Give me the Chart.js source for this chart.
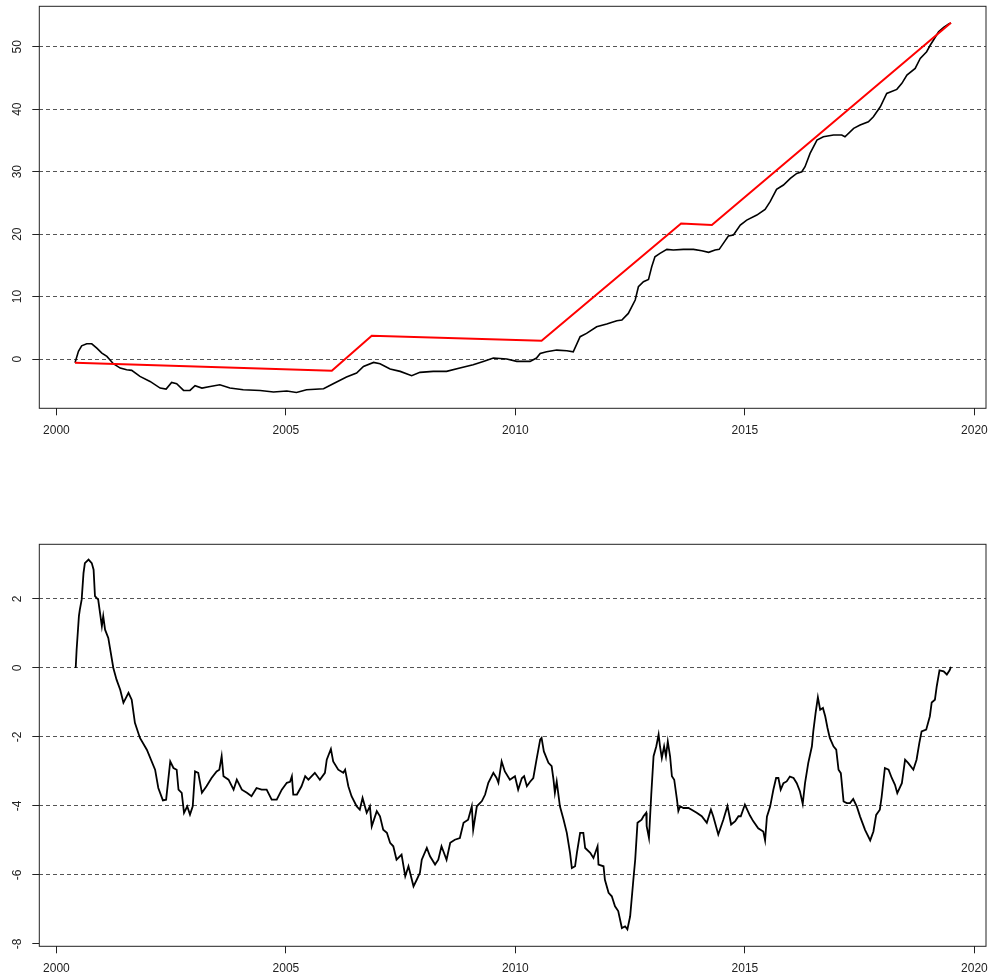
<!DOCTYPE html>
<html>
<head>
<meta charset="utf-8">
<script src="https://cdn.jsdelivr.net/npm/chart.js@4"></script>
<style>
  body { margin: 0; background: #fff; }
  .panel { position: absolute; left: 0; width: 989px; height: 489px; }
  #topPanel { top: 0; }
  #bottomPanel { top: 489px; }
</style>
</head>
<body>
<div class="panel" id="topPanel"><canvas id="topChart"></canvas></div>
<div class="panel" id="bottomPanel"><canvas id="bottomChart"></canvas></div>
<script>
// x ticks shared by both panels
const xTicks = [2000, 2005, 2010, 2015, 2020];
const topYTicks = [0, 10, 20, 30, 40, 50];
const bottomYTicks = [-8, -6, -4, -2, 0, 2];
const bottomGridValues = [-6, -4, -2, 0, 2];

// red piecewise line (top panel)
const targetYears = [2000.405, 2006.0, 2006.87, 2010.57, 2013.61, 2014.28, 2019.49];
const targetValues = [-0.59, -1.87, 3.73, 2.93, 21.7, 21.47, 53.85];

// black line (top panel)
const cumYears = [
  2000.405, 2000.48, 2000.55, 2000.66, 2000.77, 2000.88, 2000.99, 2001.10, 2001.24, 2001.39,
  2001.53, 2001.64, 2001.82, 2002.04, 2002.26, 2002.39, 2002.51, 2002.62, 2002.77, 2002.91,
  2003.02, 2003.17, 2003.35, 2003.56, 2003.78, 2004.07, 2004.44, 2004.73, 2005.02, 2005.23,
  2005.45, 2005.82, 2006.03, 2006.32, 2006.54, 2006.69, 2006.91, 2007.05, 2007.27, 2007.49,
  2007.74, 2007.92, 2008.21, 2008.50, 2008.79, 2009.08, 2009.30, 2009.52, 2009.81, 2010.03,
  2010.32, 2010.46, 2010.54, 2010.68, 2010.90, 2011.12, 2011.26, 2011.41, 2011.55, 2011.77,
  2011.99, 2012.21, 2012.32, 2012.46, 2012.61, 2012.68, 2012.79, 2012.90, 2012.97, 2013.04,
  2013.15, 2013.30, 2013.44, 2013.66, 2013.88, 2014.06, 2014.21, 2014.35, 2014.44, 2014.53,
  2014.64, 2014.75, 2014.90, 2015.04, 2015.26, 2015.44, 2015.55, 2015.69, 2015.84, 2015.99,
  2016.13, 2016.24, 2016.31, 2016.42, 2016.57, 2016.71, 2016.93, 2017.11, 2017.18, 2017.37,
  2017.51, 2017.69, 2017.80, 2017.95, 2018.09, 2018.31, 2018.42, 2018.53, 2018.71, 2018.82,
  2018.96, 2019.04, 2019.11, 2019.22, 2019.33, 2019.44, 2019.49
];
const cumValues = [
  -0.59, 1.23, 2.13, 2.45, 2.45, 1.76, 0.96, 0.43, -0.75, -1.44,
  -1.71, -1.81, -2.77, -3.58, -4.64, -4.8, -3.74, -3.95, -5.02, -5.02,
  -4.27, -4.64, -4.38, -4.11, -4.64, -4.91, -5.02, -5.28, -5.12, -5.34,
  -4.91, -4.75, -3.95, -2.88, -2.24, -1.17, -0.53, -0.75, -1.6, -1.97,
  -2.67, -2.13, -1.97, -1.97, -1.44, -0.91, -0.37, 0.16, 0, -0.37,
  -0.37, 0.16, 0.91, 1.17, 1.44, 1.33, 1.17, 3.58, 4.11, 5.18,
  5.6, 6.14, 6.24, 7.31, 9.45, 11.58, 12.38, 12.75, 14.78, 16.38,
  16.92, 17.56, 17.45, 17.56, 17.56, 17.34, 17.08, 17.45, 17.56, 18.52,
  19.69, 19.85, 21.45, 22.25, 23.05, 23.96, 25.19, 27.16, 27.86, 28.92,
  29.72, 29.99, 30.79, 32.92, 35.06, 35.59, 35.86, 35.86, 35.59, 36.93,
  37.46, 37.99, 38.79, 40.39, 42.53, 43.17, 44.13, 45.46, 46.53, 48.13,
  49.2, 50.27, 51.07, 52.4, 53.09, 53.63, 53.8
];

// black line (bottom panel)
const diffYears = [
  2000.42, 2000.44, 2000.49, 2000.51, 2000.55, 2000.59, 2000.62, 2000.70, 2000.77, 2000.81,
  2000.84, 2000.91, 2000.99, 2001.02, 2001.06, 2001.13, 2001.24, 2001.31, 2001.39, 2001.46,
  2001.57, 2001.64, 2001.71, 2001.82, 2001.97, 2002.15, 2002.22, 2002.32, 2002.39, 2002.48,
  2002.55, 2002.62, 2002.66, 2002.73, 2002.78, 2002.85, 2002.91, 2002.97, 2003.02, 2003.09,
  2003.17, 2003.27, 2003.38, 2003.49, 2003.55, 2003.60, 2003.64, 2003.75, 2003.86, 2003.93,
  2004.04, 2004.15, 2004.25, 2004.36, 2004.47, 2004.58, 2004.69, 2004.80, 2004.91, 2005.02,
  2005.09, 2005.13, 2005.16, 2005.24, 2005.34, 2005.42, 2005.49, 2005.63, 2005.74, 2005.85,
  2005.89, 2005.98, 2006.03, 2006.14, 2006.25, 2006.29, 2006.36, 2006.43, 2006.54, 2006.61,
  2006.67, 2006.76, 2006.83, 2006.87, 2006.98, 2007.05, 2007.12, 2007.20, 2007.27, 2007.34,
  2007.41, 2007.52, 2007.60, 2007.67, 2007.78, 2007.85, 2007.92, 2007.96, 2008.07, 2008.14,
  2008.25, 2008.32, 2008.39, 2008.50, 2008.58, 2008.68, 2008.79, 2008.87, 2008.97, 2009.05,
  2009.08, 2009.16, 2009.27, 2009.34, 2009.41, 2009.52, 2009.59, 2009.63, 2009.70, 2009.77,
  2009.88, 2009.99, 2010.06, 2010.14, 2010.19, 2010.25, 2010.32, 2010.39, 2010.46, 2010.54,
  2010.57, 2010.62, 2010.72, 2010.79, 2010.83, 2010.86, 2010.90, 2010.97, 2011.05, 2011.12,
  2011.19, 2011.23, 2011.30, 2011.34, 2011.41, 2011.48, 2011.52, 2011.63, 2011.70, 2011.79,
  2011.81, 2011.92, 2011.95, 2012.03, 2012.10, 2012.17, 2012.24, 2012.32, 2012.39, 2012.44,
  2012.50, 2012.57, 2012.61, 2012.66, 2012.75, 2012.79, 2012.85, 2012.86, 2012.91, 2012.96,
  2013.01, 2013.07, 2013.12, 2013.15, 2013.19, 2013.24, 2013.28, 2013.32, 2013.37, 2013.41,
  2013.46, 2013.52, 2013.55, 2013.59, 2013.66, 2013.77, 2013.84, 2013.95, 2014.06, 2014.17,
  2014.26, 2014.31, 2014.42, 2014.53, 2014.62, 2014.70, 2014.79, 2014.86, 2014.91, 2015.00,
  2015.11, 2015.18, 2015.29, 2015.40, 2015.44, 2015.48, 2015.55, 2015.62, 2015.68, 2015.73,
  2015.78, 2015.84, 2015.91, 2015.98, 2016.06, 2016.13, 2016.20, 2016.26, 2016.31, 2016.38,
  2016.46, 2016.49, 2016.54, 2016.59, 2016.64, 2016.70, 2016.75, 2016.80, 2016.85, 2016.93,
  2016.99, 2017.04, 2017.09, 2017.15, 2017.22, 2017.29, 2017.36, 2017.44, 2017.51, 2017.62,
  2017.73, 2017.80, 2017.86, 2017.94, 2017.98, 2018.05, 2018.13, 2018.20, 2018.27, 2018.32,
  2018.42, 2018.49, 2018.56, 2018.67, 2018.74, 2018.80, 2018.85, 2018.95, 2019.03, 2019.07,
  2019.14, 2019.18, 2019.24, 2019.33, 2019.40, 2019.46, 2019.49
];
const diffValues = [
  0, 0.53, 1.5, 1.69, 1.98, 2.75, 3.04, 3.14, 3.04, 2.85,
  2.08, 1.98, 1.21, 1.5, 1.11, 0.87, 0, -0.34, -0.63, -1.01,
  -0.72, -0.92, -1.59, -2.03, -2.37, -2.95, -3.48, -3.84, -3.82, -2.71,
  -2.9, -2.95, -3.53, -3.62, -4.2, -4.01, -4.25, -4.01, -3.0, -3.04,
  -3.62, -3.43, -3.19, -3.0, -2.95, -2.56, -3.14, -3.24, -3.53, -3.24,
  -3.53, -3.62, -3.72, -3.48, -3.53, -3.53, -3.82, -3.82, -3.53, -3.33,
  -3.3, -3.14, -3.67, -3.67, -3.43, -3.14, -3.24, -3.04, -3.24, -3.04,
  -2.66, -2.35, -2.71, -2.95, -3.04, -2.95, -3.43, -3.72, -4.01, -4.11,
  -3.77, -4.2, -4.01, -4.59, -4.15, -4.3, -4.69, -4.78, -5.07, -5.17,
  -5.56, -5.41, -6.04, -5.75, -6.33, -6.14, -5.94, -5.56, -5.22, -5.46,
  -5.7, -5.56, -5.17, -5.56, -5.07, -4.98, -4.93, -4.49, -4.4, -4.01,
  -4.69, -4.01, -3.86, -3.67, -3.33, -3.04, -3.19, -3.33, -2.71, -3.0,
  -3.24, -3.14, -3.53, -3.2, -3.14, -3.43, -3.3, -3.19, -2.66, -2.08,
  -2.03, -2.42, -2.75, -2.85, -3.24, -3.62, -3.29, -4.01, -4.4, -4.78,
  -5.36, -5.8, -5.75, -5.36, -4.78, -4.78, -5.22, -5.36, -5.51, -5.17,
  -5.7, -5.75, -6.14, -6.52, -6.62, -6.91, -7.05, -7.54, -7.49, -7.58,
  -7.2, -6.14, -5.56, -4.49, -4.4, -4.3, -4.2, -4.59, -4.93, -3.67,
  -2.56, -2.27, -1.93, -2.27, -2.61, -2.27, -2.56, -2.13, -2.56, -3.14,
  -3.24, -3.82, -4.15, -4.01, -4.06, -4.06, -4.11, -4.2, -4.3, -4.49,
  -4.11, -4.3, -4.83, -4.4, -4.0, -4.54, -4.44, -4.3, -4.3, -3.96,
  -4.28, -4.44, -4.65, -4.74, -5.0, -4.31, -4.02, -3.53, -3.19, -3.19,
  -3.53, -3.34, -3.29, -3.15, -3.19, -3.34, -3.58, -3.94, -3.34, -2.76,
  -2.27, -1.84, -1.31, -0.85, -1.21, -1.16, -1.4, -1.74, -2.03, -2.27,
  -2.37, -2.95, -3.05, -3.87, -3.92, -3.92, -3.8, -4.02, -4.31, -4.7,
  -5.0, -4.74, -4.26, -4.11, -3.73, -2.9, -2.95, -3.19, -3.39, -3.63,
  -3.34, -2.66, -2.76, -2.95, -2.66, -2.18, -1.84, -1.79, -1.4, -1.0,
  -0.92, -0.53, -0.07, -0.1, -0.19, -0.07, 0.03
];

const tickFont = { family: '"Liberation Sans", Arial, Helvetica, sans-serif', size: 12 };
const textColor = '#222';
const gridColor = '#555';

function toPoints(xs, ys) {
    return xs.map((x, i) => ({ x: x, y: ys[i] }));
}

// no extra room for edge labels, the plot box is placed by hand
function noPadding(s) {
    s.paddingLeft = 0;
    s.paddingRight = 0;
    s.paddingTop = 0;
    s.paddingBottom = 0;
}

// box around the plotting region, like R's bty="o"
const frame = {
    id: 'frame',
    afterDraw(chart) {
        const a = chart.chartArea;
        const ctx = chart.ctx;
        ctx.save();
        ctx.strokeStyle = '#222';
        ctx.lineWidth = 1;
        ctx.strokeRect(a.left, a.top, a.right - a.left, a.bottom - a.top);
        ctx.restore();
    }
};

function makeChart(canvasId, datasets, cfg) {
    const ctx = document.getElementById(canvasId).getContext('2d');
    return new Chart(ctx, {
        type: 'line',
        data: { datasets: datasets },
        options: {
            responsive: true,
            maintainAspectRatio: false,
            animation: false,
            layout: { padding: { top: cfg.padTop, right: 3, left: 0, bottom: 0 } },
            plugins: { legend: { display: false }, tooltip: { enabled: false } },
            elements: { point: { radius: 0 }, line: { tension: 0 } },
            scales: {
                x: {
                    type: 'linear',
                    min: 1999.627,
                    max: 2020.253,
                    afterBuildTicks: s => { s.ticks = xTicks.map(v => ({ value: v })); },
                    afterFit: s => { s.height = cfg.xHeight; noPadding(s); },
                    grid: { drawOnChartArea: false, tickLength: 7, tickColor: '#222', tickWidth: 1 },
                    border: { display: false },
                    ticks: {
                        autoSkip: false, maxRotation: 0, padding: 8,
                        font: tickFont, color: textColor,
                        callback: v => String(v)
                    }
                },
                y: {
                    min: cfg.yMin,
                    max: cfg.yMax,
                    afterBuildTicks: s => { s.ticks = cfg.yTicks.map(v => ({ value: v })); },
                    afterFit: s => { s.width = 39.3; noPadding(s); },
                    grid: {
                        color: c => (c.tick && cfg.gridValues.indexOf(c.tick.value) >= 0) ? gridColor : 'rgba(0,0,0,0)',
                        lineWidth: 1,
                        tickLength: 7, tickColor: '#222', tickWidth: 1, tickBorderDash: []
                    },
                    border: { display: false, dash: [4, 3] },
                    ticks: {
                        autoSkip: false, minRotation: 90, maxRotation: 90,
                        crossAlign: 'center', padding: cfg.yPad,
                        font: tickFont, color: textColor,
                        callback: v => String(v)
                    }
                }
            }
        },
        plugins: [frame]
    });
}

makeChart('topChart', [
    {
        data: toPoints(targetYears, targetValues),
        borderColor: '#ff0000', borderWidth: 2, fill: false, order: 0
    },
    {
        data: toPoints(cumYears, cumValues),
        borderColor: '#000000', borderWidth: 1.6, fill: false, order: 1
    }
], {
    padTop: 6.3, xHeight: 80.7, yMin: -7.88, yMax: 56.47,
    yTicks: topYTicks, gridValues: topYTicks, yPad: 7.6
});

makeChart('bottomChart', [
    {
        data: toPoints(diffYears, diffValues),
        borderColor: '#000000', borderWidth: 1.8, fill: false
    }
], {
    padTop: 55.3, xHeight: 31.7, yMin: -8.07, yMax: 3.585,
    yTicks: bottomYTicks, gridValues: bottomGridValues, yPad: 8.9
});
</script>
</body>
</html>
